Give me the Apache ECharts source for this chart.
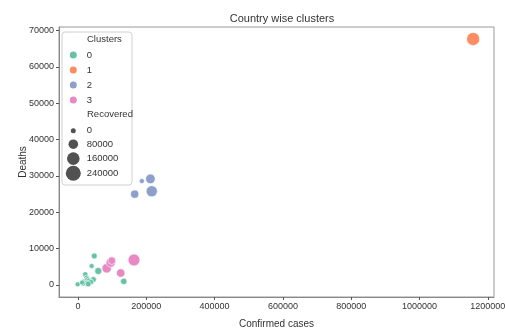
<!DOCTYPE html>
<html><head><meta charset="utf-8">
<script src="https://cdn.jsdelivr.net/npm/echarts@6/dist/echarts.min.js"></script>
<style>html,body{margin:0;padding:0;background:#fff}#c{width:505px;height:331px}</style>
</head><body><div id="c"></div>
<script>
// [confirmed, deaths, recovered]
const cluster0 = [
  [47700, 7990, 12000], [40100, 5230, 0], [59400, 3860, 30000], [21400, 2950, 3000],
  [25500, 2000, 3000], [45000, 1500, 12000], [35000, 1000, 8000], [17600, 900, 3000],
  [-900, 190, 0], [134000, 1000, 20000], [28000, 1500, 5000], [32000, 1200, 3000],
  [38000, 800, 6000], [25000, 600, 2000], [15000, 400, 1000], [30000, 300, 10000], [12000, 700, 500]
];
const cluster1 = [[1157000, 67700, 175000]];
const cluster2 = [[212000, 29200, 80000], [187000, 28600, 0], [166000, 25000, 50000], [216000, 25800, 120000]];
const cluster3 = [[84000, 4600, 78000], [96000, 6200, 78000], [99000, 6700, 40000], [125000, 3300, 58000], [164000, 6900, 140000]];
const clusterNames = ['0', '1', '2', '3'];
const clusterColors = ['#66c2a5', '#fc8d62', '#8da0cb', '#e78ac3'];
const recoveredLegend = [0, 80000, 160000, 240000];
const xTicks = [0, 200000, 400000, 600000, 800000, 1000000, 1200000];
const yTicks = [0, 10000, 20000, 30000, 40000, 50000, 60000, 70000];

function sz(r) { return Math.sqrt(25 + r * 200 / 240000); }

const chart = echarts.init(document.getElementById('c'));
const font = 'Liberation Sans';
const clusterData = [cluster0, cluster1, cluster2, cluster3];
const series = clusterData.map((d, i) => ({
  type: 'scatter', name: clusterNames[i], data: d,
  symbolSize: v => sz(v[2]),
  itemStyle: { color: clusterColors[i], borderColor: '#fff', borderWidth: 0.6, opacity: 1 }
}));
recoveredLegend.forEach(r => series.push({
  type: 'scatter', name: 'r' + r, data: [], itemStyle: { color: '#262626' }
}));
const cx = 73.3, textX = 86.7;
const legends = [{
  data: clusterNames, orient: 'vertical', left: cx - 3.5, top: 50, icon: 'circle',
  itemWidth: 7, itemHeight: 7, itemGap: 5, padding: 0,
  itemStyle: { borderWidth: 0 },
  textStyle: { fontFamily: font, fontSize: 9.5, lineHeight: 10, color: '#333',
    padding: [0, 0, 0, textX - (cx - 3.5) - 7 - 5] }
}];
const rowY = [128.3, 144, 158.6, 173.3];
recoveredLegend.forEach((r, i) => {
  const s = sz(r);
  legends.push({
    data: ['r' + r], orient: 'vertical', left: cx - s / 2, top: rowY[i] - s / 2, icon: 'circle',
    itemWidth: s, itemHeight: s, padding: 0,
    itemStyle: { borderWidth: 0 },
    formatter: n => n.slice(1),
    textStyle: { fontFamily: font, fontSize: 9.5, color: '#333',
      padding: [0, 0, 0, textX - (cx - s / 2) - s - 5] }
  });
});

chart.setOption({
  animation: false,
  title: { text: 'Country wise clusters', left: 277, top: 8, textAlign: 'center',
    textStyle: { fontFamily: font, fontSize: 11, fontWeight: 'normal', color: '#333' } },
  grid: { left: 59, right: 11, top: 27, bottom: 34, show: true, borderColor: '#999', borderWidth: 1,
    containLabel: false, outerBoundsMode: 'none' },
  legend: legends,
  graphic: [
    { type: 'rect', shape: { x: 62, y: 32, width: 70, height: 153, r: 3 }, z: 1,
      style: { fill: 'rgba(255,255,255,0.8)', stroke: '#d0d0d0', lineWidth: 1 } },
    { type: 'text', x: 87, y: 39.5, z: 5, style: { text: 'Clusters', fill: '#333', font: '9.5px ' + font, verticalAlign: 'middle' } },
    { type: 'text', x: 87, y: 114.3, z: 5, style: { text: 'Recovered', fill: '#333', font: '9.5px ' + font, verticalAlign: 'middle' } }
  ],
  xAxis: {
    type: 'value', min: -55600, max: 1218000, splitLine: { show: false },
    name: 'Confirmed cases', nameLocation: 'middle', nameGap: 22, nameMoveOverlap: false,
    nameTextStyle: { fontFamily: font, fontSize: 10, color: '#333' },
    axisLine: { show: true, onZero: false, lineStyle: { color: '#888' } },
    axisTick: { show: true, length: 3, customValues: xTicks, lineStyle: { color: '#555' } },
    axisLabel: { customValues: xTicks, formatter: v => String(v), fontFamily: font, fontSize: 9, color: '#333', margin: 5 }
  },
  yAxis: {
    type: 'value', min: -3300, max: 71000, splitLine: { show: false },
    name: 'Deaths', nameLocation: 'middle', nameGap: 31, nameMoveOverlap: false,
    nameTextStyle: { fontFamily: font, fontSize: 10, color: '#333' },
    axisLine: { show: true, onZero: false, lineStyle: { color: '#888' } },
    axisTick: { show: true, length: 3, customValues: yTicks, lineStyle: { color: '#555' } },
    axisLabel: { customValues: yTicks, formatter: v => String(v), fontFamily: font, fontSize: 9, color: '#333', margin: 5 }
  },
  series: series
});
</script></body></html>
